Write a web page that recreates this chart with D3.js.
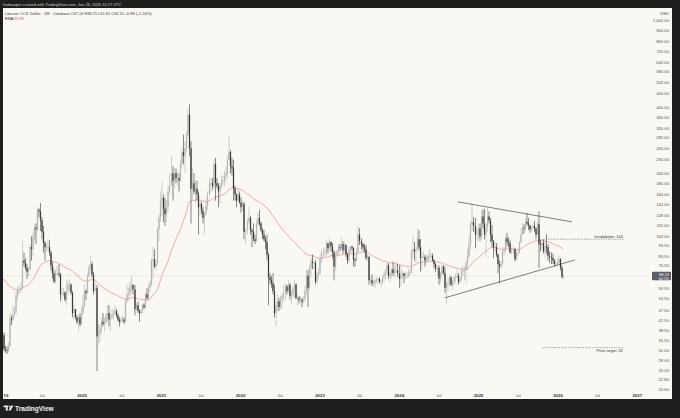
<!DOCTYPE html>
<html><head><meta charset="utf-8">
<script src="https://cdn.jsdelivr.net/npm/d3@7"></script>
<style>html,body{margin:0;padding:0;background:#1e1e1e;}svg{display:block}</style>
</head><body><svg id="c" width="680" height="418"></svg>
<script>
// ---- data: weekly candles, each row = [high, low, close]; open = previous close
const firstWeek = "2018-12-31";
const firstOpen = 30.6;
const y2019 = [[38.6,30.1,36.5],[37.5,30.8,31.5],[32.6,30.3,31.2],[32.4,30.0,31.0],[34,30.5,32.5],
[46,32.5,43.5],[45,40.5,43],[50,42,45],[49,44,47],
[58,45.5,55],[61,53,58.5],[62,56,59],[64,57,60],
[98,59,80],[87,75,78],[82,72,74],[77,66,71],[75,68,73],
[95,72,92],[103,80,90],[108,84,103],[118,98,113],
[118,95,111],[140,109,136],[139,126,134],[146,109,122],
[126,100,108],[115,87,96],[98,80,92],[96,88,92],[101,88,92],
[99,84,87],[89,72,76],[79,66,70],[73,63,64],
[72,63,70],[76,68,70],[77,67,69],[70,52,56],[60,53,56],
[60,55,57],[58,52,53],[65,50,58],[65,56,62],
[66,58,62],[63,56,57],[58,44,46],[50,43,48],
[48,43,44],[45,41,42],[45,38,44],[46,40,41]];
const y2020 = [[49,40.5,46],[56,45,50],[62,49,58],[59,53,57],[70,56,68],
[77,67,75],[84,72,77],[79,67,69],[71,56,58],
[64,57,60],[62,25,36],[41,33,37],[41,34,39],[44,37,42],
[46,40,41],[44,38,42],[46,41,45],[50,42,46],
[50,40,43],[46,38,44],[48,43,45],[48,43,46],
[50,45,47],[48,44,45],[46,42,43],[44,40,42],[44,41,43],
[45,42,43],[44,41,42],[53,42,52],[62,51,56],
[60,53,56],[64,55,62],[68,58,62],[62,56,59],[62,45,48],
[51,47,50],[52,46,47],[48,42,46],[48,45,47],
[51,46,50],[51,48,49],[57,48,56],[60,53,54],
[63,52,60],[65,58,62],[82,61,80],[92,66,81],[90,74,75],
[80,72,77],[113,76,111],[131,98,126],[165,120,150]];
const y2021 = [[184,128,154],[160,120,138],[155,115,130],[150,120,140],
[175,132,165],[200,160,176],[240,175,200],[215,150,185],
[212,172,200],[210,180,190],[205,175,190],[200,165,185],[230,183,220],
[265,212,250],[300,220,240],[280,200,260],[310,250,300],
[395,295,370],[412,240,260],[280,118,170],[210,150,180],[200,160,165],
[185,145,170],[185,150,160],[165,105,140],[150,128,145],
[148,130,135],[140,118,125],[132,105,130],[152,128,142],
[165,135,160],[190,158,180],[190,165,180],[190,168,175],[230,170,220],
[235,150,180],[190,170,175],[180,140,165],[180,145,175],
[195,170,185],[195,175,185],[205,175,195],[215,180,200],
[240,190,230],[295,230,250],[255,200,215],[235,195,210],[230,150,170],
[175,150,160],[162,140,150],[170,148,160],[165,145,147]];
const y2022 = [[155,132,140],[150,135,145],[148,100,108],[112,95,110],[125,105,120],
[140,118,125],[128,105,110],[112,92,108],[118,98,100],
[105,95,98],[122,97,117],[132,115,125],[136,115,118],
[120,108,110],[112,100,105],[110,98,100],[103,90,97],
[105,80,85],[87,50,67],[70,62,65],[68,60,63],[70,56,58],
[62,44,46],[52,40,50],[56,47,52],[54,47,49],
[55,48,53],[57,48,55],[62,52,56],[63,53,61],
[62,56,58],[65,57,62],[63,53,55],[58,51,56],[61,54,60],
[65,54,62],[63,53,54],[56,50,54],[55,51,53],
[55,51,53],[54,49,52],[55,51,53],[61,52,58],[73,56,68],
[72,49,60],[76,59,74],[82,67,79],[85,73,78],
[81,73,78],[80,62,64],[71,63,69],[74,67,70]];
const y2023 = [[84,69,81],[89,78,87],[91,82,87],[92,84,87],[100,84,96],
[96,86,91],[102,89,97],[98,88,93],[96,82,87],
[89,65,75],[88,72,85],[90,83,88],[96,85,92],
[95,88,91],[102,90,95],[98,86,89],[97,87,94],
[95,83,85],[87,77,80],[93,78,90],[93,86,92],[94,88,91],
[92,75,81],[82,75,80],[91,79,88],[115,86,105],
[112,94,98],[101,90,95],[96,88,92],[95,87,90],[94,80,82],
[85,80,83],[84,62,65],[67,62,65],[69,61,63],
[65,61,63],[66,60,65],[67,63,65],[67,62,66],
[67,63,64],[65,61,64],[68,62,67],[71,64,69],[73,66,72],
[78,69,76],[78,66,68],[71,64,70],[74,66,73],
[79,68,70],[76,67,72],[79,70,72],[77,67,70]];
const y2024 = [[76,60,66],[76,61,69],[72,66,70],[70,63,68],[71,66,68],
[71,66,68],[73,67,70],[73,68,71],[90,70,87],
[104,82,90],[97,80,88],[93,78,90],[112,89,100],
[110,89,92],[100,71,82],[87,72,83],[88,82,83],[85,75,80],
[84,78,80],[86,79,84],[90,81,84],[87,82,84],
[86,79,80],[81,74,77],[78,71,73],[76,68,74],
[76,62,66],[71,63,70],[77,67,75],[76,69,70],[75,57,60],
[64,51,62],[67,58,63],[69,61,67],[68,61,62],
[65,59,64],[68,62,67],[70,63,67],[72,66,68],[70,62,64],
[68,63,66],[74,65,71],[75,68,72],[75,65,72],
[80,63,78],[90,72,84],[105,82,95],[120,90,117],
[146,110,120],[126,108,115],[125,91,105],[112,98,105],[117,100,112]];
const y2025 = [[118,98,103],[135,100,127],[137,112,118],[137,100,105],
[118,83,113],[138,108,127],[134,118,122],[125,97,105],
[116,92,98],[99,82,92],[97,88,92],[96,83,85],[86,70,77],
[80,63,75],[80,73,77],[92,76,88],[92,84,89],
[104,86,101],[107,93,97],[102,92,96],[99,86,87],
[92,85,88],[93,86,90],[91,79,81],[88,80,87],[89,84,87],
[98,86,97],[112,96,105],[119,104,113],[117,106,112],
[124,110,120],[132,115,118],[125,110,116],[116,107,111],
[114,108,113],[118,112,115],[121,108,112],[113,100,105],[121,104,117],
[134,74,95],[100,88,94],[100,90,96],[100,86,88],
[101,82,93],[105,86,92],[95,80,84],[88,78,83],
[87,77,82],[86,77,80],[81,75,77],[79,75,77],[82,76,78]];
const y2026 = [[84,77,81],[82,72,74],[76,66,67.24],[68.75,65.82,68.13]];

const emaLength = 50;
const emaSeed = 68;
const lastPrice = 68.13;

const priceTicks = [1000,900,800,720,640,580,520,460,400,360,320,290,260,230,200,180,160,144,128,116,103,93.5,83.5,75.5,59.5,53.5,47.5,42.5,38.5,34.5,31,28,25.2,22.8,20.6];
const yearTicks = ["2020","2021","2022","2023","2024","2025","2026","2027"];
const firstYearTick = {date:"2019-01-01", text:"19"};   // shown cut at the left edge in the original
const julTicks = ["2019-07-01","2020-07-01","2021-07-01","2022-07-01","2023-07-01","2024-07-01","2025-07-01","2026-07-01"];

const upperTrend = [["2024-09-27",148],["2026-03-06",120]];
const lowerTrend = [["2024-07-29",54],["2026-03-20",80.4]];
const invalidation = {from:"2025-11-16", to:"2026-10-31", price:100, label:"Invalidation: 100"};
const target = {from:"2025-10-19", to:"2026-10-31", price:32, label:"Price target: 32"};

const headerTitle = "Litecoin / U.S. Dollar · 1W · Coinbase";
const headerOHLC = "O67.24  H68.75  L65.82  C68.13  +0.89 (+1.34%)";
const emaLabel = "EMA";
const emaValueText = "90.83";
const topNote = "hodasapiri created with TradingView.com, Jan 26, 2026 10:27 UTC";

// ---- build
const rows = [y2019,y2020,y2021,y2022,y2023,y2024,y2025,y2026].flat();
const start = new Date(firstWeek + "T00:00:00Z");
let prev = firstOpen;
const candles = rows.map((r,i)=>{
  const c = {date:d3.utcMonday.offset(start,i), open:prev, high:r[0], low:r[1], close:r[2]};
  prev = r[2]; return c;
});
let e = emaSeed;
const k = 2/(emaLength+1);
candles.forEach(c=>{ e = c.close*k + e*(1-k); c.ema = e; });

const svg = d3.select("#c");
const F = "'Liberation Sans', Arial, sans-serif";
const P = {l:3, r:672, t:8, b:399};

svg.append("rect").attr("width",680).attr("height",418).attr("fill","#1e1e1e");
svg.append("rect").attr("x",P.l).attr("y",P.t).attr("width",P.r-P.l).attr("height",P.b-P.t).attr("fill","#f9f8f2");
svg.append("defs").append("clipPath").attr("id","clip").append("rect")
  .attr("x",P.l).attr("y",P.t).attr("width",P.r-P.l).attr("height",P.b-P.t);

const x = d3.scaleUtc().domain([new Date("2020-01-01T00:00:00Z"), new Date("2026-01-01T00:00:00Z")]).range([82,558]);
const y = d3.scaleLog().domain([20.6,1000]).range([389.6,20]);
const D = s => new Date(s + "T00:00:00Z");

const g = svg.append("g").attr("clip-path","url(#clip)");

// current price line
g.append("line").attr("x1",P.l).attr("x2",650).attr("y1",y(lastPrice)).attr("y2",y(lastPrice))
  .attr("stroke","#c9c9c9").attr("stroke-width",0.6).attr("stroke-dasharray","1,1");

// EMA
g.append("path").datum(candles).attr("fill","none").attr("stroke","#e58a8a").attr("stroke-width",0.7)
  .attr("d", d3.line().x(d=>x(d.date)).y(d=>y(d.ema)));

// candles
const cg = g.append("g");
candles.forEach(c=>{
  const up = c.close >= c.open;
  const col = up ? "#b4b4b4" : "#383838";
  const cx = Math.round(x(c.date)*2)/2;
  cg.append("line").attr("x1",cx).attr("x2",cx).attr("y1",y(c.high)).attr("y2",y(c.low))
    .attr("stroke",col).attr("stroke-width",0.6);
  const y0 = y(Math.max(c.open,c.close)), y1 = y(Math.min(c.open,c.close));
  cg.append("rect").attr("x",cx-0.6).attr("width",1.2).attr("y",y0).attr("height",Math.max(0.6,y1-y0)).attr("fill",col);
});

// trendlines
[upperTrend, lowerTrend].forEach(t=>{
  g.append("line").attr("x1",x(D(t[0][0]))).attr("y1",y(t[0][1])).attr("x2",x(D(t[1][0]))).attr("y2",y(t[1][1]))
    .attr("stroke","#2a2a2a").attr("stroke-width",0.6);
});

// dotted annotation lines
[invalidation, target].forEach((a,i)=>{
  g.append("line").attr("x1",x(D(a.from))).attr("x2",x(D(a.to))).attr("y1",y(a.price)).attr("y2",y(a.price))
    .attr("stroke","#555").attr("stroke-width",0.6).attr("stroke-dasharray","1.2,1.2");
  g.append("text").attr("x",x(D(a.to))-1).attr("y", i===0 ? y(a.price)-1.5 : y(a.price)+4.8)
    .attr("text-anchor","end").attr("font-family",F).attr("font-size",3.9).attr("fill","#333").text(a.label);
});

// price axis labels
svg.append("text").attr("x",669).attr("y",14.5).attr("text-anchor","end").attr("font-family",F)
  .attr("font-size",4.2).attr("fill","#444").text("USD");
priceTicks.forEach(p=>{
  svg.append("text").attr("x",669).attr("y",y(p)+1.5).attr("text-anchor","end").attr("font-family",F)
    .attr("font-size",4.2).attr("fill","#555").text(d3.format(",.2f")(p));
});
// last price tag
const ly = y(lastPrice);
svg.append("rect").attr("x",652).attr("y",ly-4).attr("width",19).attr("height",8.5).attr("rx",0.8).attr("fill","#5b5e68");
svg.append("text").attr("x",669).attr("y",ly+0.2).attr("text-anchor","end").attr("font-family",F)
  .attr("font-size",4.0).attr("fill","#fff").text(d3.format(".2f")(lastPrice));
svg.append("text").attr("x",669).attr("y",ly+3.8).attr("text-anchor","end").attr("font-family",F)
  .attr("font-size",3.4).attr("fill","#e8e8e8").text("6d 13h");

// time axis labels
const tg = svg.append("g");
tg.append("text").attr("x",Math.max(P.l+0.5, x(D(firstYearTick.date)))).attr("y",396.5).attr("font-family",F)
  .attr("font-size",4.3).attr("font-weight","bold").attr("fill","#333").text(firstYearTick.text);
yearTicks.forEach(t=>{
  tg.append("text").attr("x",x(D(t+"-01-01"))).attr("y",396.5).attr("text-anchor","middle").attr("font-family",F)
    .attr("font-size",4.3).attr("font-weight","bold").attr("fill","#333").text(t);
});
julTicks.forEach(t=>{
  tg.append("text").attr("x",x(D(t))).attr("y",396.5).attr("text-anchor","middle").attr("font-family",F)
    .attr("font-size",4.1).attr("fill","#555").text("Jul");
});

// header
svg.append("text").attr("x",3).attr("y",5.5).attr("font-family",F).attr("font-size",4.0).attr("fill","#cfcfcf").text(topNote);
const h1 = svg.append("text").attr("x",5).attr("y",15).attr("font-family",F).attr("font-size",3.9).attr("fill","#333");
h1.append("tspan").text(headerTitle + "  ");
h1.append("tspan").attr("fill","#444").text(headerOHLC);
const h2 = svg.append("text").attr("x",5).attr("y",20).attr("font-family",F).attr("font-size",3.9).attr("fill","#333");
h2.append("tspan").text(emaLabel + "  ");
h2.append("tspan").attr("fill","#e05a5a").text(emaValueText);

// footer logo
const lg = svg.append("g").attr("fill","#f0f0f0");
lg.append("rect").attr("x",3.5).attr("y",405.6).attr("width",4.2).attr("height",1.6);
lg.append("rect").attr("x",5.8).attr("y",405.6).attr("width",1.9).attr("height",5);
lg.append("circle").attr("cx",9.4).attr("cy",406.4).attr("r",0.85);
lg.append("path").attr("d","M8.4,410.6 L11.2,405.6 L13.4,405.6 L10.6,410.6 Z");
svg.append("text").attr("x",15).attr("y",410.6).attr("font-family",F).attr("font-size",6.6).attr("font-weight","bold").attr("fill","#f0f0f0").text("TradingView");
</script></body></html>
